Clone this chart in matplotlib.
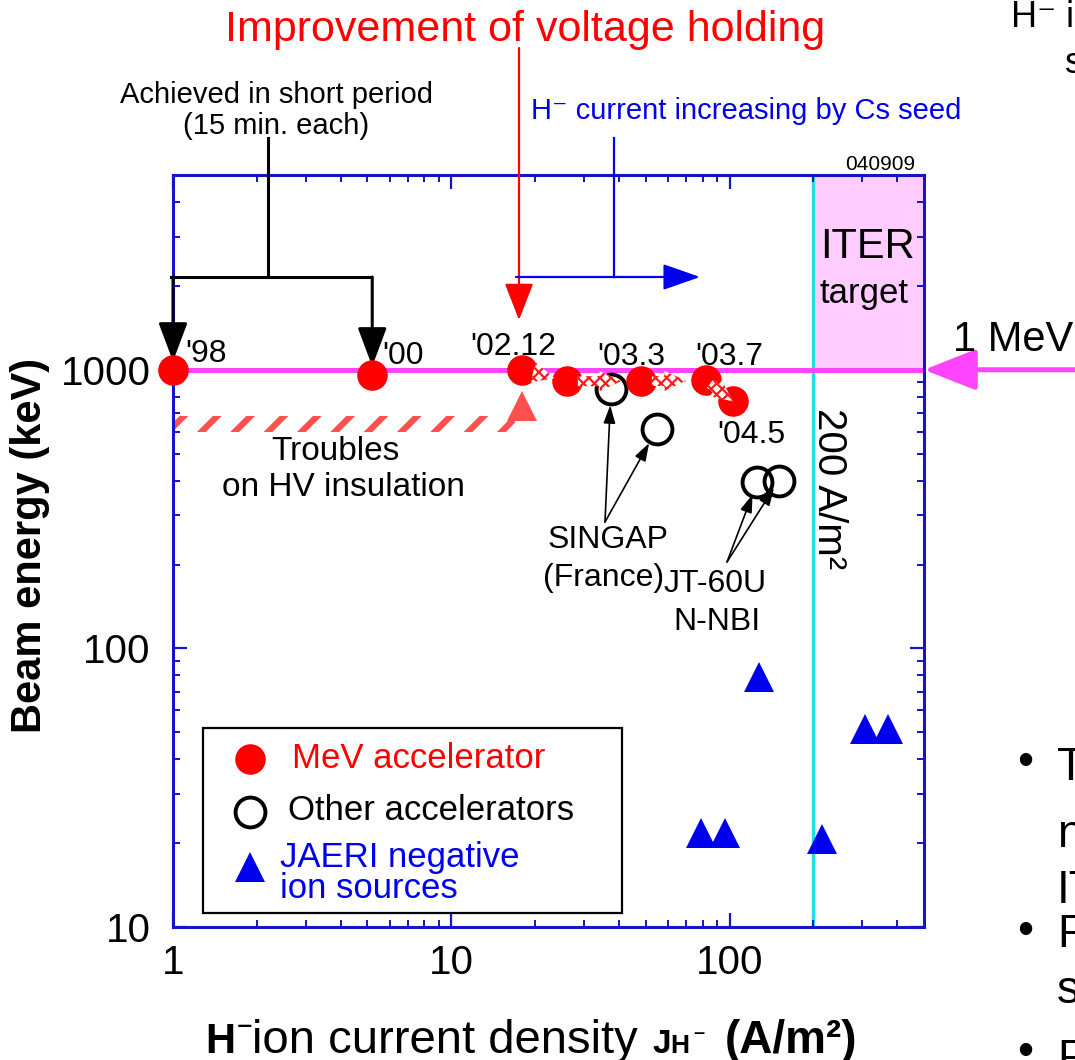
import matplotlib
matplotlib.use("Agg")
import matplotlib.pyplot as plt
from matplotlib.lines import Line2D
from matplotlib.patches import Rectangle
from matplotlib.ticker import NullFormatter, FixedLocator, FixedFormatter

plt.rcParams["font.family"] = ["Liberation Sans", "DejaVu Sans"]

W, H = 1075, 1060

# MeV accelerator results (current density A/m2, beam energy keV)
mev_j = [1.0, 5.2, 18.0, 26.0, 48.0, 82.0, 103.0]
mev_e = [1000, 960, 1000, 910, 910, 915, 770]
mev_tags = ["'98", "'00", "'02.12", "", "'03.3", "'03.7", "'04.5"]

# other accelerators: SINGAP (2) and JT-60U N-NBI (2)
other_j = [37.5, 55.0, 126.0, 150.0]
other_e = [855, 615, 397, 400]

# JAERI negative ion sources
jaeri_j = [128, 79, 96, 215, 306, 372]
jaeri_e = [79, 21.7, 21.7, 20.7, 51.3, 51.3]

# energy reached while the HV insulation still had troubles
trouble_j = 18.0
trouble_e = 743

iter_j = 200      # ITER current density target (A/m2)
iter_e = 1000     # ITER beam energy target (keV)

x_ticks = [1, 10, 100]
x_ticklabels = ["1", "10", "100"]
y_ticks = [10, 100, 1000]
y_ticklabels = ["10", "100", "1000"]

RED = "#ff0000"
BLUE = "#0000ee"
AXBLUE = "#1414c8"
MAGENTA = "#ff44ff"
CYAN = "#22dede"
PINK = "#ffccff"
LIGHTRED = "#ff5050"

fig = plt.figure(figsize=(W / 100, H / 100), dpi=100)
ax = fig.add_axes([173 / W, 1 - 927 / H, (924 - 173) / W, (927 - 175) / H])
ax.set_xscale("log")
ax.set_yscale("log")
ax.set_xlim(1, 500)
ax.set_ylim(10, 5000)


def fx(x):
    return x / W


def fy(y):
    return 1 - y / H


def fp(x, y):
    return (x, H - y)


def ftext(x, y, s, **kw):
    kw.setdefault("ha", "center")
    kw.setdefault("va", "center")
    return fig.text(fx(x), fy(y), s, **kw)


def fline(xs, ys, **kw):
    fig.add_artist(Line2D([fx(v) for v in xs], [fy(v) for v in ys],
                          transform=fig.transFigure, **kw))


def hatch_lw(patch, lw):
    if hasattr(patch, "set_hatch_linewidth"):
        patch.set_hatch_linewidth(lw)


# axes frame and ticks
for sp in ax.spines.values():
    sp.set_color(AXBLUE)
    sp.set_linewidth(2.2)
ax.xaxis.set_major_locator(FixedLocator(x_ticks))
ax.xaxis.set_major_formatter(FixedFormatter(x_ticklabels))
ax.yaxis.set_major_locator(FixedLocator(y_ticks))
ax.yaxis.set_major_formatter(FixedFormatter(y_ticklabels))
ax.xaxis.set_minor_formatter(NullFormatter())
ax.yaxis.set_minor_formatter(NullFormatter())
ax.tick_params(which="major", direction="in", length=10, width=1.6, color=AXBLUE,
               top=True, right=True, labelsize=29, labelcolor="black")
ax.tick_params(which="minor", direction="in", length=5, width=1.4, color=AXBLUE,
               top=True, right=True)
ax.tick_params(axis="x", which="major", pad=12)
ax.tick_params(axis="y", which="major", pad=16)

# ITER target region, 200 A/m2 line and 1 MeV line
ax.fill_between([iter_j, 500], iter_e, 5000, color=PINK, lw=0, zorder=0)
ax.axvline(iter_j, color=CYAN, lw=2.4, zorder=1)
ax.axhline(iter_e, color=MAGENTA, lw=3.6, zorder=2)

# troubles on HV insulation band
band = Rectangle((1.0, 600), 16.9 - 1.0, 680 - 600, facecolor="none",
                 edgecolor=LIGHTRED, lw=0, hatch="/", zorder=2)
hatch_lw(band, 4.5)
ax.add_patch(band)
ax.plot([trouble_j], [trouble_e], "^", ms=21, color=LIGHTRED, mew=0, zorder=4)

# data markers
ax.plot(other_j, other_e, "o", ms=21.5, mfc="none", mec="black", mew=2.8,
        ls="none", zorder=4)
ax.plot(mev_j, mev_e, "o", ms=22, color=RED, mew=0, ls="none", zorder=5,
        clip_on=False)
ax.plot(jaeri_j, jaeri_e, "^", ms=21, color=BLUE, mew=0, ls="none", zorder=5)

# checkered progress arrows between MeV shots
arrow_shrink = [(8, 9), (8, 14), (8, 14), (4, 0)]
for i, (sa, sb) in enumerate(arrow_shrink, start=2):
    ann = ax.annotate("", xy=(mev_j[i + 1], mev_e[i + 1]), xytext=(mev_j[i], mev_e[i]),
                      arrowprops=dict(arrowstyle="simple,head_length=1.3,head_width=1.2,tail_width=0.6",
                                      mutation_scale=12, fc="white", ec="#ff1a1a",
                                      hatch="xxx", lw=0, shrinkA=sa, shrinkB=sb),
                      zorder=6)
    hatch_lw(ann.arrow_patch, 1.6)

# shot labels
tag_pos = {"'98": (185, 362), "'00": (382, 364), "'02.12": (470, 355),
           "'03.3": (597, 365), "'03.7": (695, 365), "'04.5": (717, 443)}
for tag in mev_tags:
    if tag:
        x, y = tag_pos[tag]
        ftext(x, y, tag, ha="left", va="baseline", fontsize=23)

ftext(335, 452, "Troubles", fontsize=24)
ftext(343, 488, "on HV insulation", fontsize=24)
ftext(608, 540, "SINGAP", fontsize=23)
ftext(604, 578, "(France)", fontsize=23)
ftext(715, 584, "JT-60U", fontsize=23)
ftext(717, 622, "N-NBI", fontsize=23)
ftext(868, 247, "ITER", fontsize=30)
ftext(864, 293, "target", fontsize=25)
ftext(829, 489, "200 A/m²", fontsize=29, rotation=-90)
ftext(880, 164, "040909", fontsize=15)

# arrows from labels to other accelerators
small_head = "-|>,head_length=0.6,head_width=0.2"
for j, e, start, sb in [(other_j[0], other_e[0], (605, 522), 12),
                        (other_j[1], other_e[1], (605, 522), 12),
                        (other_j[2], other_e[2], (727, 562), 10),
                        (other_j[3], other_e[3], (727, 562), 6)]:
    ax.annotate("", xy=(j, e), xytext=fp(*start), textcoords="figure pixels",
                arrowprops=dict(arrowstyle=small_head, mutation_scale=18,
                                color="black", lw=1.2, shrinkA=0, shrinkB=sb),
                annotation_clip=False)

# "Achieved in short period" bracket
ftext(276, 95, "Achieved in short period", fontsize=21)
ftext(276, 126, "(15 min. each)", fontsize=21)
fline([268, 268], [138, 277], color="black", lw=2.2)
fline([171, 369], [277, 277], color="black", lw=2.2, solid_capstyle="projecting")
for k in (0, 1):
    ax.annotate("", xy=(mev_j[k], mev_e[k]), xytext=(mev_j[k], H - 277),
                textcoords=("data", "figure pixels"),
                arrowprops=dict(arrowstyle="-|>,head_length=0.8,head_width=0.3",
                                mutation_scale=30, color="black", lw=2.2,
                                shrinkA=0, shrinkB=6),
                annotation_clip=False)

# voltage holding improvement
ftext(525, 30, "Improvement of voltage holding", fontsize=31, color=RED)
ax.annotate("", xy=fp(519, 320), xycoords="figure pixels", xytext=fp(519, 48),
            textcoords="figure pixels",
            arrowprops=dict(arrowstyle="-|>,head_length=0.77,head_width=0.3",
                            mutation_scale=30, color=RED, lw=1.6, shrinkA=0, shrinkB=0),
            annotation_clip=False)

# Cs seed
ftext(531, 111, "H⁻ current increasing by Cs seed", fontsize=21, color=BLUE, ha="left")
fline([614, 614], [138, 277], color=BLUE, lw=1.6)
ax.annotate("", xy=fp(700, 277), xycoords="figure pixels", xytext=fp(516, 277),
            textcoords="figure pixels",
            arrowprops=dict(arrowstyle="-|>,head_length=0.77,head_width=0.27",
                            mutation_scale=30, color=BLUE, lw=1.6, shrinkA=0, shrinkB=0),
            annotation_clip=False)

# 1 MeV marker arrow at the right edge
ftext(953, 340, "1 MeV", fontsize=30, ha="left")
ax.annotate("", xy=(1, iter_e), xycoords=("axes fraction", "data"),
            xytext=(1100, iter_e), textcoords=("figure pixels", "data"),
            arrowprops=dict(arrowstyle="-|>,head_length=0.8,head_width=0.315",
                            mutation_scale=40, color=MAGENTA, lw=3.6,
                            shrinkA=0, shrinkB=0),
            annotation_clip=False)

# legend box
fig.add_artist(Rectangle((fx(203), fy(913)), (622 - 203) / W, (913 - 728) / H,
                         transform=fig.transFigure, facecolor="white",
                         edgecolor="black", lw=1.6))
fig.add_artist(Line2D([fx(250)], [fy(759)], marker="o", ms=22, color=RED, mew=0,
                      transform=fig.transFigure))
fig.add_artist(Line2D([fx(250)], [fy(812)], marker="o", ms=21.5, mfc="none",
                      mec="black", mew=2.8, transform=fig.transFigure))
fig.add_artist(Line2D([fx(250)], [fy(867)], marker="^", ms=21, color=BLUE, mew=0,
                      transform=fig.transFigure))
ftext(292, 759, "MeV accelerator", fontsize=25, color=RED, ha="left")
ftext(288, 810, "Other accelerators", fontsize=25, color="black", ha="left")
ftext(280, 857, "JAERI negative", fontsize=25, color=BLUE, ha="left")
ftext(280, 888, "ion sources", fontsize=25, color=BLUE, ha="left")

# axis titles
ftext(30, 545, "Beam energy (keV)", fontsize=30, fontweight="bold", rotation=90)
ftext(205, 1053, "H", fontsize=30, fontweight="bold", ha="left", va="baseline")
ftext(236, 1042, "⁻", fontsize=24, fontweight="bold", ha="left", va="baseline")
ftext(252, 1053, "ion current density", fontsize=34, ha="left", va="baseline")
ftext(652, 1053, "J", fontsize=24, fontweight="bold", ha="left", va="baseline")
ftext(670, 1053, "H", fontsize=19, fontweight="bold", ha="left", va="baseline")
ftext(692, 1046, "⁻", fontsize=18, fontweight="bold", ha="left", va="baseline")
ftext(725, 1053, "(A/m²)", fontsize=33, fontweight="bold", ha="left", va="baseline")

# neighbouring slide text
ftext(1011, 27, "H⁻ ion", fontsize=26, ha="left", va="baseline")
ftext(1065, 73, "s", fontsize=26, ha="left", va="baseline")
for by in (763, 932, 1053):
    ftext(1025, by, "•", fontsize=33)
for ly, s in [(780, "T"), (847, "n"), (903, "ITER"), (947, "R"), (1003, "s"), (1072, "P")]:
    ftext(1057, ly, s, fontsize=33, ha="left", va="baseline")

fig.savefig("out.png", dpi=100)
